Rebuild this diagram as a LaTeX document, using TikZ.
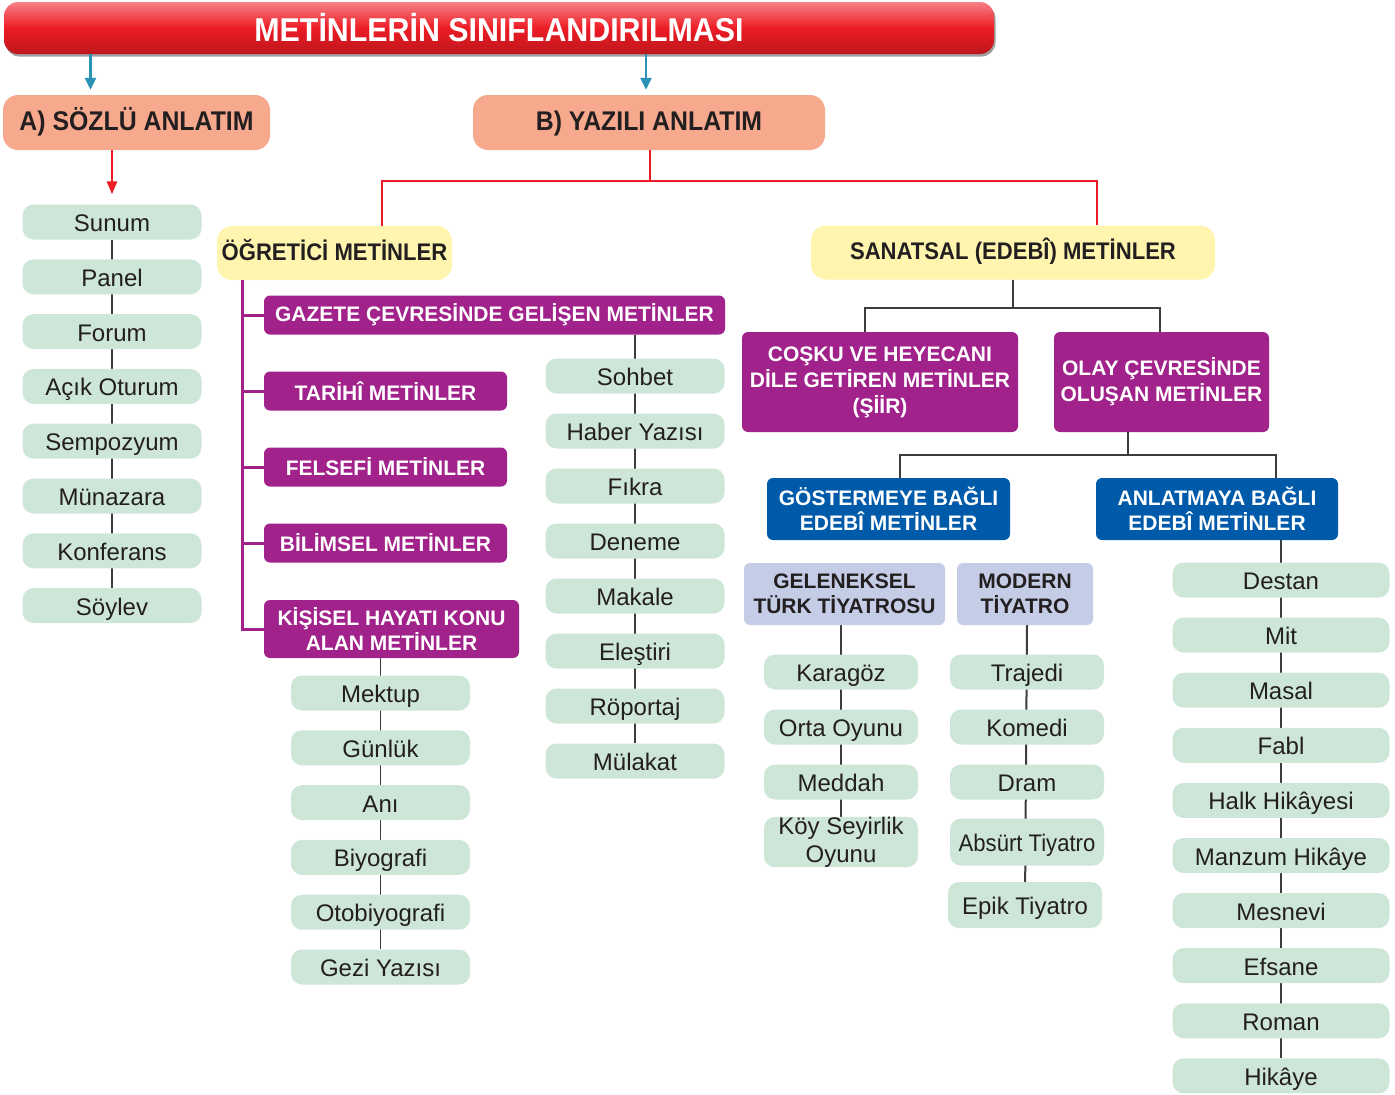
\documentclass[tikz,border=0pt]{standalone}
\usepackage{fontspec}
\usepackage{graphicx}
\setmainfont{Liberation Sans}
\newfontfamily\headfont[FakeStretch=0.92]{Liberation Sans}
\usetikzlibrary{arrows.meta,backgrounds,shadows}

\definecolor{baslikkirmizi}{RGB}{237,28,36}
\definecolor{somon}{RGB}{247,169,141}
\definecolor{sari}{RGB}{255,245,175}
\definecolor{mor}{RGB}{162,34,139}
\definecolor{mavi}{RGB}{0,90,170}
\definecolor{lila}{RGB}{197,205,230}
\definecolor{yesil}{RGB}{205,230,215}
\definecolor{koyu}{RGB}{35,31,32}
\definecolor{turkuaz}{RGB}{41,146,181}
\definecolor{gri}{RGB}{60,60,60}

\tikzset{
  baslik/.style={top color=baslikkirmizi!55!white, bottom color=baslikkirmizi!80!black, middle color=baslikkirmizi,
    rounded corners=14pt, drop shadow={shadow xshift=1.5pt, shadow yshift=-2.5pt, fill=black!75},
    text=white, font=\headfont\bfseries\fontsize{33}{36}\selectfont, inner sep=0pt},
  anlatim/.style={fill=somon, text=koyu, rounded corners=15pt, minimum height=55pt, inner sep=0pt,
    text height=20pt, text depth=5pt, font=\headfont\bfseries\fontsize{27}{30}\selectfont},
  metinler/.style={fill=sari, text=koyu, rounded corners=15pt, minimum height=54pt, inner sep=0pt,
    text height=19pt, text depth=5pt, font=\headfont\bfseries\fontsize{24}{27}\selectfont},
  morkutu/.style={fill=mor, text=white, rounded corners=6pt, inner sep=0pt, align=center,
    font=\bfseries\fontsize{21}{25}\selectfont},
  mavikutu/.style={fill=mavi, text=white, rounded corners=6pt, inner sep=0pt, align=center,
    minimum height=62pt, font=\bfseries\fontsize{21}{25}\selectfont},
  lilakutu/.style={fill=lila, text=koyu, rounded corners=6pt, inner sep=0pt, align=center,
    minimum height=62pt, font=\bfseries\fontsize{21}{25}\selectfont},
  yaprakbase/.style={fill=yesil, text=koyu, rounded corners=11pt, inner sep=0pt,
    font=\fontsize{24}{28}\selectfont},
  yaprak/.style={yaprakbase, minimum height=35pt, text height=20pt, text depth=1pt},
  kirmizicizgi/.style={draw=baslikkirmizi, line width=2.5pt},
  morcizgi/.style={draw=mor, line width=3pt},
  gricizgi/.style={draw=gri, line width=2pt},
  listecizgi/.style={draw=gri, line width=1.5pt},
  turkuazok/.style={draw=turkuaz, line width=2.5pt, -{Triangle[length=12pt,width=11pt]}}
}

\begin{document}
\begin{tikzpicture}[x=1pt, y=-1pt]
    \useasboundingbox (0,0) rectangle (1395,1095);

    % Title
    \node[baslik, minimum width=990pt, minimum height=52pt] (baslik) at (499,28) {METİNLERİN SINIFLANDIRILMASI};

    % Sozlu / Yazili
    \node[anlatim, minimum width=267pt] (sozlu) at (136.5,122.5) {A) SÖZLÜ ANLATIM};
    \node[anlatim, minimum width=352pt] (yazili) at (649,122.5) {B) YAZILI ANLATIM};
    \coordinate (okA) at ([xshift=-46pt]sozlu.north);
    \coordinate (okB) at ([xshift=-3pt]yazili.north);
    \draw[turkuazok] (baslik.south -| okA) -- ([yshift=5pt]okA);
    \draw[turkuazok] (baslik.south -| okB) -- ([yshift=5pt]okB);

    % Ogretici / Sanatsal
    \node[metinler, minimum width=235pt] (ogretici) at (334.5,253) {ÖĞRETİCİ METİNLER};
    \node[metinler, minimum width=404pt] (sanatsal) at (1013,252.5) {SANATSAL (EDEBÎ) METİNLER};
    \coordinate (kol) at (650,181);
    \draw[kirmizicizgi] (yazili.south -| kol) -- (kol);
    \draw[kirmizicizgi] ([xshift=47.5pt]ogretici.north) |- (kol) -| ([xshift=84pt]sanatsal.north);

    % Sozlu anlatim list
    \foreach \ad [count=\i] in {Sunum,Panel,Forum,Açık Oturum,Sempozyum,Münazara,Konferans,Söylev}
        \node[yaprak, minimum width=179pt] (s\i) at (112,{222+54.8*(\i-1)}) {\ad};
    \draw[kirmizicizgi, -{Triangle[length=13pt,width=10pt]}, shorten >=10pt] (sozlu.south -| s1) -- (s1.north);

    % Ogretici metinler
    \node[morkutu, minimum width=461pt, minimum height=39pt] (gazete) at (494.5,315) {GAZETE ÇEVRESİNDE GELİŞEN METİNLER};
    \node[morkutu, minimum width=243pt, minimum height=39pt] (tarihi) at (385.5,391) {TARİHÎ METİNLER};
    \node[morkutu, minimum width=243pt, minimum height=39pt] (felsefi) at (385.5,467) {FELSEFİ METİNLER};
    \node[morkutu, minimum width=243pt, minimum height=39pt] (bilimsel) at (385.5,543) {BİLİMSEL METİNLER};
    \node[morkutu, minimum width=255pt, minimum height=58pt] (kisisel) at (391.5,629) {KİŞİSEL HAYATI KONU\\ALAN METİNLER};
    \coordinate (govde) at ([xshift=-92.5pt]ogretici.south);
    \foreach \dal in {gazete,tarihi,felsefi,bilimsel,kisisel}
        \draw[morcizgi] (govde) |- (\dal.west);

    \foreach \ad [count=\i] in {Sohbet,Haber Yazısı,Fıkra,Deneme,Makale,Eleştiri,Röportaj,Mülakat}
        \node[yaprak, minimum width=179pt] (g\i) at (635,{376+55*(\i-1)}) {\ad};
    \foreach \ad [count=\i] in {Mektup,Günlük,Anı,Biyografi,Otobiyografi,Gezi Yazısı}
        \node[yaprak, minimum width=179pt] (k\i) at (380.5,{693+54.8*(\i-1)}) {\ad};

    % Sanatsal metinler
    \node[morkutu, minimum width=276pt, minimum height=100pt, font=\bfseries\fontsize{21}{26}\selectfont] (cosku) at (880,382)
        {COŞKU VE HEYECANI\\DİLE GETİREN METİNLER\\(ŞİİR)};
    \node[morkutu, minimum width=215pt, minimum height=100pt, font=\bfseries\fontsize{21}{26}\selectfont] (olay) at (1161.5,382)
        {OLAY ÇEVRESİNDE\\OLUŞAN METİNLER};
    \coordinate (sk) at (1013,308);
    \draw[gricizgi] (sanatsal.south) -- (sk);
    \draw[gricizgi] ([xshift=-15pt]cosku.north) |- (sk) -| ([xshift=-1.5pt]olay.north);

    \node[mavikutu, minimum width=243pt] (gosterme) at (888.5,509) {GÖSTERMEYE BAĞLI\\EDEBÎ METİNLER};
    \node[mavikutu, minimum width=242pt] (anlatma) at (1217,509) {ANLATMAYA BAĞLI\\EDEBÎ METİNLER};
    \coordinate (ok) at (1128,455);
    \draw[gricizgi] (olay.south -| ok) -- (ok);
    \draw[gricizgi] ([xshift=11.5pt]gosterme.north) |- (ok) -| ([xshift=59pt]anlatma.north);

    \node[lilakutu, minimum width=201pt] (geleneksel) at (844.5,594) {GELENEKSEL\\TÜRK TİYATROSU};
    \node[lilakutu, minimum width=136pt] (modern) at (1025,594) {MODERN\\TİYATRO};

    \foreach \ad [count=\i] in {Karagöz,Orta Oyunu,Meddah}
        \node[yaprak, minimum width=154pt] (t\i) at (841,{672+55*(\i-1)}) {\ad};
    \node[yaprakbase, minimum width=154pt, minimum height=47pt, align=center] (t4) at (841,842) {Köy Seyirlik\\Oyunu};
    \foreach \ad [count=\i] in {Trajedi,Komedi,Dram}
        \node[yaprak, minimum width=154pt] (m\i) at (1027,{672+55*(\i-1)}) {\ad};
    \node[yaprak, minimum width=154pt, minimum height=47pt] (m4) at (1027,842) {\scalebox{0.92}[1]{Absürt Tiyatro}};
    \node[yaprak, minimum width=154pt, minimum height=46pt] (m5) at (1025,905) {Epik Tiyatro};

    \foreach \ad [count=\i] in {Destan,Mit,Masal,Fabl,Halk Hikâyesi,Manzum Hikâye,Mesnevi,Efsane,Roman,Hikâye}
        \node[yaprak, minimum width=217pt] (d\i) at (1281,{580+55.1*(\i-1)}) {\ad};

    % List connectors behind the boxes
    \begin{scope}[on background layer]
        \draw[listecizgi] (s1) -- (s8);
        \draw[listecizgi] (gazete.south -| g1) -- (g8);
        \draw[listecizgi] (kisisel.south -| k1) -- (k6);
        \draw[gricizgi] (geleneksel.south -| t1) -- (t4);
        \draw[gricizgi] (modern.south -| m1) -- (m5);
        \draw[gricizgi] (anlatma.south -| d1) -- (d10);
    \end{scope}
\end{tikzpicture}
\end{document}
